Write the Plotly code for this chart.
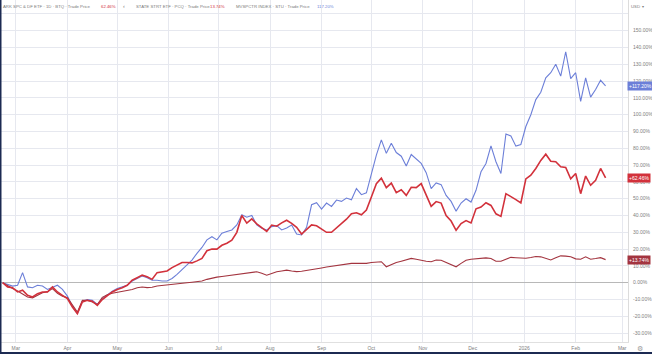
import pandas as pd
import plotly.graph_objects as go

# ---- data (percent change) ----
dates = pd.date_range("2025-02-21", periods=122, freq="3D")

mvspctr = [
    0, -1, -2, -1.5, 6, -2.5, -3, -1.5, -2, -4,
    -2.5, -1.5, -4, -8, -14, -18.4, -11, -10, -10.5, -13,
    -9.5, -7, -5, -3.5, -2.5, -1.5, 1, 2.5, 4, 3,
    1.5, 1.5, 1, 1, 2.5, 5, 8, 10.5, 13.5, 17.5,
    21, 25.5, 27.4, 25.5, 29.5, 30.5, 31.4, 34.4, 40.4, 39,
    40, 34.4, 32.4, 31.4, 33.4, 34, 31.4, 32.6, 34.4, 29,
    28.4, 33, 46.4, 47.6, 43.8, 47.4, 45.4, 49.2, 48.4, 50.4,
    49.4, 56, 52.4, 53.5, 65, 76, 85, 77, 83, 77.5,
    75.3, 69.5, 76.3, 73.5, 71, 65.5, 56, 59.4, 58.4, 52,
    48.4, 42.6, 47.4, 50, 48, 55, 66, 71, 81.5, 72,
    65, 88.5, 87.4, 81.3, 82.3, 93, 100, 109, 113.4, 122,
    125, 130, 123, 137.5, 121.5, 125, 108, 122, 110.5, 115,
    120.5, 117.2,
]

ark = [
    0, -2.5, -3, -5.5, -4.5, -7.5, -8.5, -6.5, -5.5, -5.5,
    -2.5, -5.5, -7.5, -9.5, -14.5, -18.4, -11.5, -10.5, -11, -13.5,
    -10, -7.5, -5.5, -4, -3, -1.5, 1.5, 3, 4.5, 3.5,
    2, 6, 6.5, 7, 9, 10.5, 12, 12, 11.8, 13,
    14.5, 19, 20, 20, 22.3, 23.5, 25.3, 30, 40, 35.5,
    38, 35, 33, 30.5, 34.3, 33.6, 35.6, 37.2, 35.3, 33,
    29, 32, 34.4, 33.9, 32, 30, 30, 32.5, 35.5, 37.8,
    41, 41.6, 40.4, 43.2, 51, 59, 62.2, 56.6, 59.3, 53.6,
    55.3, 52, 56.8, 56.6, 59, 52.6, 45.5, 48.3, 47.4, 40,
    36.7, 31.2, 35.2, 37, 35.6, 44, 45, 47.6, 46, 41,
    39.5, 53, 51.4, 49.5, 47.5, 61.8, 64, 68, 72.8, 76.5,
    72.3, 72, 69, 68.6, 61.8, 65, 53, 63.5, 58, 61,
    68, 62.46,
]

state_strt = [
    0, -2, -3.5, -5, -6.5, -8.5, -9, -7.3, -6, -5.3,
    -3.5, -6.3, -8, -9, -13.5, -17.5, -10.5, -10.5, -11.5, -13,
    -8.7, -7.2, -6.3, -5.8, -5.2, -4.7, -4, -3, -2.6, -2.9,
    -2.7, -2, -1.6, -1.3, -1, -0.6, -0.3, 0, 0.3, 0.5,
    1, 2, 2.8, 3.3, 3.7, 4.1, 4.5, 4.9, 5.2, 5.6,
    6, 6.5, 5.6, 4.5, 5.5, 6.5, 7, 7.5, 7, 6.6,
    6.8, 7.2, 7.8, 8.3, 8.8, 9.3, 9.8, 10.3, 10.7, 11,
    11.5, 11.5, 11.5, 11.5, 12, 12.3, 12.5, 9.5, 11, 12,
    12.8, 13.6, 14.5, 14, 13.3, 12.8, 12.5, 13.5, 13.4, 12,
    10.7, 9.5, 11.5, 13.4, 14, 14.2, 14.5, 14.8, 14.4, 12.8,
    12.8, 14, 15.1, 14.9, 14.7, 14.6, 15, 15.6, 15.4, 14.5,
    13.5, 14.8, 16, 15.8, 15.5, 14.2, 14, 15.4, 14, 14.4,
    14.9, 13.74,
]

month_ticks = ["2025-03-01", "2025-04-01", "2025-05-01", "2025-06-01", "2025-07-01",
               "2025-08-01", "2025-09-01", "2025-10-01", "2025-11-01", "2025-12-01",
               "2026-01-01", "2026-02-01", "2026-03-01"]
month_labels = ["Mar", "Apr", "May", "Jun", "Jul", "Aug", "Sep", "Oct", "Nov", "Dec",
                "2026", "Feb", "Mar"]
y_ticks = list(range(-30, 170, 10))
y_labels = [("" if v == 160 else f"{v:.2f}%") for v in y_ticks]

BLUE = "#6c7fd8"
RED = "#d2313b"
DARKRED = "#a3343f"
FONT = "Liberation Sans, Arial, sans-serif"

fig = go.Figure()
fig.add_trace(go.Scatter(x=dates, y=mvspctr, mode="lines",
                         line=dict(color=BLUE, width=1.1), hoverinfo="skip"))
fig.add_trace(go.Scatter(x=dates, y=state_strt, mode="lines",
                         line=dict(color=DARKRED, width=1.1), hoverinfo="skip"))
fig.add_trace(go.Scatter(x=dates, y=ark, mode="lines",
                         line=dict(color=RED, width=1.6), hoverinfo="skip"))

fig.update_layout(
    width=652, height=354,
    margin=dict(l=0, r=24, t=0, b=12),
    paper_bgcolor="white", plot_bgcolor="white",
    showlegend=False,
    font=dict(family=FONT, size=5, color="#808080"),
)
fig.update_xaxes(
    range=["2025-02-19 10:00", "2026-03-04 12:00"],
    tickvals=month_ticks, ticktext=month_labels,
    showgrid=True, gridcolor="#e6e8ef", gridwidth=1,
    showline=True, linecolor="#e0e0e0", ticks="",
    tickfont=dict(size=5, color="#808080"), ticklabelstandoff=1,
)
fig.update_yaxes(
    side="right", range=[-35.3, 168.3],
    tickvals=y_ticks, ticktext=y_labels,
    showgrid=True, gridcolor="#e6e8ef", gridwidth=1,
    zeroline=True, zerolinecolor="#b8b8b8", zerolinewidth=1,
    showline=True, linecolor="#dcdcdc", ticks="",
    tickfont=dict(size=5, color="#808080"), ticklabelstandoff=3,
)

# price tags on the right axis
for val, txt, col in [(117.20, "+117.20%", BLUE), (62.46, "+62.46%", RED),
                      (13.74, "+13.74%", DARKRED)]:
    fig.add_annotation(x=1, xref="paper", y=val, yref="y", xanchor="left",
                       text=txt, showarrow=False, bgcolor=col,
                       font=dict(size=5, color="white", family=FONT),
                       borderpad=1, xshift=-1)

# header legend text
W = 628.0
GREY = "#7a7a7a"
def hdr(px, text, color, size=4.3):
    fig.add_annotation(x=px / W, xref="paper", y=(342 - 6) / 342, yref="paper",
                       xanchor="left", yanchor="middle", text=text, showarrow=False,
                       font=dict(size=size, color=color, family=FONT),
                       borderpad=0, xshift=-2)

hdr(4, "ARK SPC &amp; DF ETF · 1D · BTQ · Trade Price", GREY)
hdr(102, "62.46%", RED)
hdr(124, "‹", GREY, 5.5)
hdr(137, "STATE STRT ETF · PCQ · Trade Price", GREY)
hdr(211, "13.74%", RED)
hdr(237, "MVSPCTR INDEX · STU · Trade Price", GREY)
hdr(318, "117.20%", BLUE)
hdr(632, "USD  ▾", GREY)

# gear icon
fig.add_annotation(x=640 / W, xref="paper", y=-6 / 342, yref="paper",
                   xanchor="center", yanchor="middle", text="⚙", showarrow=False,
                   font=dict(size=7, color="#9a9a9a"))

# dark frame edges (left and bottom)
fig.add_shape(type="line", xref="paper", yref="paper", x0=0.5 / W, x1=0.5 / W,
              y0=-12 / 342, y1=1, line=dict(color="#1c2a52", width=2))
fig.add_shape(type="line", xref="paper", yref="paper", x0=0, x1=652 / W,
              y0=-11 / 342, y1=-11 / 342, line=dict(color="#1c2a52", width=2))

fig.write_html("out.html")
